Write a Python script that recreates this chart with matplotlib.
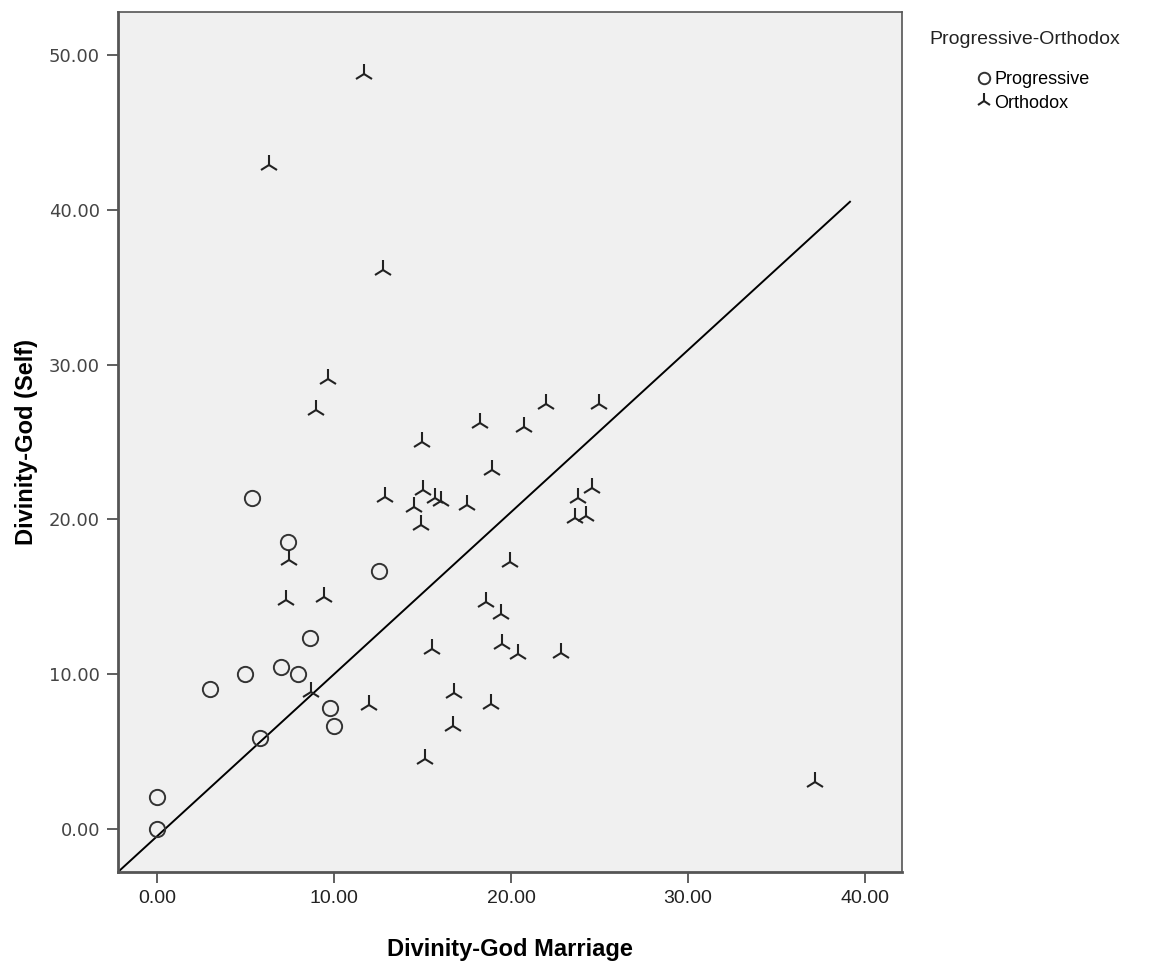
import matplotlib
matplotlib.use("Agg")
import matplotlib.pyplot as plt

# Progressive group (circles)
prog_x = [0.0, 0.0, 5.84, 3.01, 4.95, 7.0, 7.97, 8.63, 9.76, 10.0, 7.4, 12.52, 5.35]
prog_y = [0.0, 2.09, 5.86, 9.04, 9.99, 10.49, 9.99, 12.33, 7.82, 6.63, 18.52, 16.65, 21.4]

# Orthodox group (tri markers)
orth_x = [11.71, 6.33, 12.77, 9.64, 8.98, 22.0, 24.97, 18.25, 20.73, 14.97,
          18.93, 12.86, 15.05, 14.54, 15.7, 16.05, 17.5, 14.92, 24.56, 23.8,
          23.6, 24.22, 19.94, 7.44, 7.3, 9.42, 18.59, 19.44, 15.54, 19.47,
          20.42, 22.84, 8.72, 12.0, 16.78, 18.89, 16.74, 15.14, 37.2]
orth_y = [48.75, 42.9, 36.1, 29.05, 27.07, 27.45, 27.45, 26.2, 25.95, 24.98,
          23.19, 21.45, 21.9, 20.82, 21.35, 21.19, 20.93, 19.64, 22.06, 21.4,
          20.07, 20.24, 17.25, 17.38, 14.8, 15.0, 14.64, 13.87, 11.63, 11.95,
          11.3, 11.35, 8.87, 8.01, 8.81, 8.07, 6.67, 4.5, 3.04]

# reference line endpoints
line_x = [-2.2, 39.15]
line_y = [-2.78, 40.52]

ticks_x = [0, 10, 20, 30, 40]
ticks_y = [0, 10, 20, 30, 40, 50]

sans = ["Liberation Sans", "DejaVu Sans"]

fig = plt.figure(figsize=(11.73, 9.65), dpi=100)
ax = fig.add_axes([118/1173, 1-872/965, (902-118)/1173, (872-12)/965])
ax.set_facecolor("#f0f0f0")

ax.plot(line_x, line_y, color="black", lw=1.4, zorder=2)
p1, = ax.plot(prog_x, prog_y, ls="none", marker="o", ms=11, mfc="none",
              mec="#333333", mew=1.4, zorder=3)
p2, = ax.plot(orth_x, orth_y, ls="none", marker="2", ms=15, mec="#222222",
              mew=1.5, zorder=3)

ax.set_xlim(-2.2, 42.09)
ax.set_ylim(-2.78, 52.78)
ax.set_xticks(ticks_x)
ax.set_yticks(ticks_y)
ax.set_xticklabels([f"{t:.2f}" for t in ticks_x], family=sans, fontsize=14, color="#222222")
ax.set_yticklabels([f"{t:.2f}" for t in ticks_y], family="DejaVu Sans", fontsize=13, color="#444444")
ax.tick_params(direction="out", length=8, width=1.2, color="#444444", pad=5)

for s in ax.spines.values():
    s.set_color("#555555")
    s.set_linewidth(1.2)
ax.spines["left"].set_linewidth(2)
ax.spines["bottom"].set_linewidth(2)

ax.set_xlabel("Divinity-God Marriage", family=sans, fontweight="bold", fontsize=17, labelpad=22)
ax.set_ylabel("Divinity-God (Self)", family=sans, fontweight="bold", fontsize=17, labelpad=8)

fig.text(929/1173, 1-40/965, "Progressive-Orthodox", family=sans, fontsize=14,
         color="#222222", va="center", ha="left")
fig.legend([p1, p2], ["Progressive", "Orthodox"], loc="upper left",
           bbox_to_anchor=(970/1173, 1-64/965), frameon=False,
           prop={"family": sans, "size": 13}, handlelength=0.8,
           handletextpad=0.15, labelspacing=0.35, markerscale=0.75, borderaxespad=0)

fig.savefig("out.png", dpi=100)
